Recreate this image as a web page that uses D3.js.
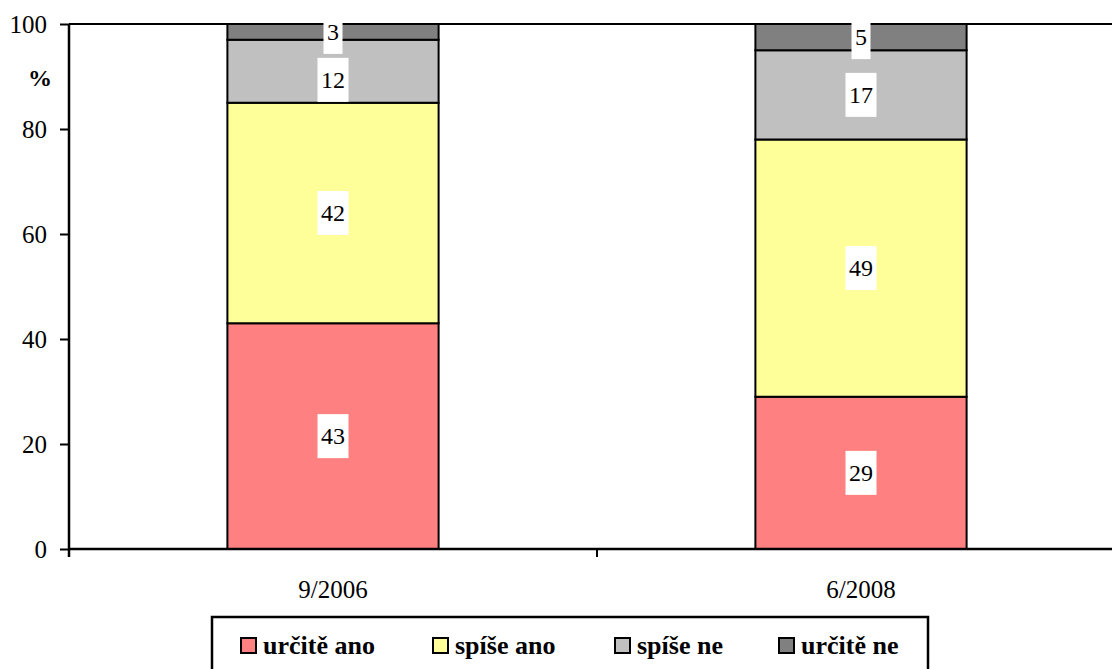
<!DOCTYPE html>
<html>
<head>
<meta charset="utf-8">
<script src="https://cdn.jsdelivr.net/npm/d3@7"></script>
<style>
html,body{margin:0;padding:0;background:#fff;}
svg{display:block;}
svg text{font-family:"Liberation Serif","Times New Roman",Times,"DejaVu Serif",serif !important;}
</style>
</head>
<body>
<svg id="chart" width="1112" height="669"></svg>
<script>
const categories = ["9/2006", "6/2008"];
const seriesNames = ["určitě ano", "spíše ano", "spíše ne", "určitě ne"];
const seriesColors = ["#FF8080", "#FFFF99", "#C0C0C0", "#808080"];
const urciteAno = [43, 29];
const spiseAno = [42, 49];
const spiseNe = [12, 17];
const urciteNe = [3, 5];
const yTicks = [0, 20, 40, 60, 80, 100];

const FONT = "'Liberation Serif', 'Times New Roman', Times, 'DejaVu Serif', serif";
const seriesValues = [urciteAno, spiseAno, spiseNe, urciteNe];
const rows = categories.map((c, i) => {
  const r = {cat: c};
  seriesNames.forEach((s, j) => r[s] = seriesValues[j][i]);
  return r;
});

const svg = d3.select("#chart").attr("font-family", FONT);
svg.append("rect").attr("width", 1112).attr("height", 669).attr("fill", "#fff");

const x0 = 69, x1 = 1125, yTop = 24, yBot = 549;
const x = d3.scaleBand().domain(categories).range([x0, x1]).paddingInner(0.6).paddingOuter(0.3);
const y = d3.scaleLinear().domain([0, 100]).range([yBot, yTop]);
const step = x.step();

svg.append("line").attr("x1", x0).attr("x2", 1112).attr("y1", y(100)).attr("y2", y(100))
  .attr("stroke", "#000").attr("stroke-width", 2);

const stack = d3.stack().keys(seriesNames)(rows);

const g = svg.append("g");
stack.forEach((layer, j) => {
  g.selectAll(null).data(layer).enter().append("rect")
    .attr("x", d => x(d.data.cat))
    .attr("width", x.bandwidth())
    .attr("y", d => y(d[1]))
    .attr("height", d => y(d[0]) - y(d[1]))
    .attr("fill", seriesColors[j])
    .attr("stroke", "#000")
    .attr("stroke-width", 2);
});

const yAxis = d3.axisLeft(y).tickValues(yTicks).tickSize(9).tickPadding(13).tickFormat(d3.format("d"));
const ya = svg.append("g").attr("transform", `translate(${x0},0)`).call(yAxis)
  .attr("font-family", FONT).attr("font-size", 25);
ya.select(".domain").remove();
ya.selectAll(".tick line").attr("stroke", "#000").attr("stroke-width", 2);
ya.selectAll(".tick text").attr("font-size", 25).attr("fill", "#000")
  .attr("font-family", FONT).attr("dy", "0.33em");
svg.append("line").attr("x1", x0).attr("x2", x0).attr("y1", yTop).attr("y2", yBot + 8)
  .attr("stroke", "#000").attr("stroke-width", 2.5);

svg.append("line").attr("x1", x0).attr("x2", 1112).attr("y1", yBot).attr("y2", yBot)
  .attr("stroke", "#000").attr("stroke-width", 2.5);
const boundaries = categories.map(c => x(c) - x.paddingOuter() * step).concat([x1]);
svg.selectAll(null).data(boundaries).enter().append("line")
  .attr("x1", d => d).attr("x2", d => d).attr("y1", yBot).attr("y2", yBot + 8)
  .attr("stroke", "#000").attr("stroke-width", 2);
svg.selectAll(null).data(categories).enter().append("text")
  .attr("x", d => x(d) + x.bandwidth() / 2).attr("y", 598)
  .attr("text-anchor", "middle").attr("font-size", 25).attr("fill", "#000")
  .attr("font-family", FONT)
  .text(d => d);

svg.append("text").attr("x", 40).attr("y", 86).attr("text-anchor", "middle")
  .attr("font-family", FONT)
  .attr("font-size", 24).attr("font-weight", "bold").text("%");

const boxH = 44, padX = 3.5, gap = 4;
const lg = svg.append("g");
categories.forEach((c, i) => {
  let prevBottom = -Infinity;
  for (let j = stack.length - 1; j >= 0; j--) {
    const d = stack[j][i];
    const val = d[1] - d[0];
    let cy = (y(d[0]) + y(d[1])) / 2;
    let top = cy - boxH / 2;
    if (top < prevBottom + gap) { top = prevBottom + gap; cy = top + boxH / 2; }
    prevBottom = top + boxH;
    const cx = x(c) + x.bandwidth() / 2;
    const t = lg.append("text").attr("x", cx).attr("y", cy).attr("dy", "0.34em")
      .attr("font-family", FONT)
      .attr("text-anchor", "middle").attr("font-size", 24).attr("fill", "#000").text(val);
    const w = t.node().getComputedTextLength();
    lg.insert("rect", "text:last-child").attr("x", cx - w / 2 - padX).attr("y", top)
      .attr("width", w + 2 * padX).attr("height", boxH).attr("fill", "#fff");
  }
});

svg.append("rect").attr("x", 212).attr("y", 617).attr("width", 716).attr("height", 70)
  .attr("fill", "#fff").attr("stroke", "#000").attr("stroke-width", 2.5);
const legX = [241, 433, 615, 779];
seriesNames.forEach((s, j) => {
  svg.append("rect").attr("x", legX[j]).attr("y", 638).attr("width", 15).attr("height", 15)
    .attr("fill", seriesColors[j]).attr("stroke", "#000").attr("stroke-width", 2);
  svg.append("text").attr("x", legX[j] + 22).attr("y", 654).attr("font-size", 26)
    .attr("font-family", FONT)
    .attr("font-weight", "bold").attr("fill", "#000").text(s);
});
</script>
</body>
</html>
